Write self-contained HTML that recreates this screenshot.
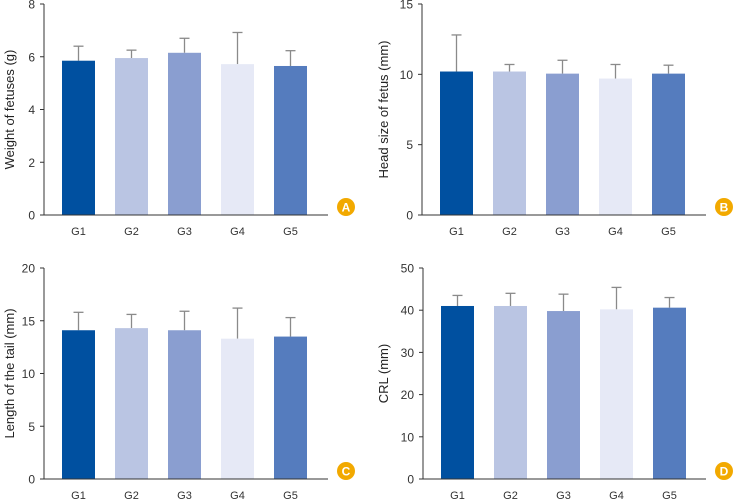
<!DOCTYPE html>
<html><head><meta charset="utf-8"><style>
body{margin:0;background:#fff;}
svg{display:block;font-family:"Liberation Sans",Arial,sans-serif;}
</style></head><body>
<svg id="c" width="734" height="500"></svg>
<script>
const categories=["G1","G2","G3","G4","G5"];
const colors=["#0050a0","#bac5e3","#8a9ed0","#e6e9f6","#557cbe"];
const weightMeans=[5.85,5.95,6.15,5.72,5.65];
const weightSD=[0.55,0.3,0.55,1.2,0.58];
const headMeans=[10.2,10.2,10.05,9.7,10.05];
const headSD=[2.6,0.5,0.95,1.0,0.6];
const tailMeans=[14.1,14.3,14.1,13.3,13.5];
const tailSD=[1.7,1.3,1.8,2.9,1.8];
const crlMeans=[41,41,39.8,40.2,40.6];
const crlSD=[2.5,3,4,5.2,2.4];
const weightTicks=[0,2,4,6,8];
const headTicks=[0,5,10,15];
const tailTicks=[0,5,10,15,20];
const crlTicks=[0,10,20,30,40,50];
const panels=[
 {id:"a",x0:44,x1:328,top:4,bot:215,max:8,ticks:weightTicks,m:weightMeans,s:weightSD,title:"Weight of fetuses (g)",tx:14,letter:"A"},
 {id:"b",x0:422,x1:706,top:4,bot:215,max:15,ticks:headTicks,m:headMeans,s:headSD,title:"Head size of fetus (mm)",tx:388,letter:"B"},
 {id:"c",x0:44,x1:328,top:268,bot:479,max:20,ticks:tailTicks,m:tailMeans,s:tailSD,title:"Length of the tail (mm)",tx:14,letter:"C"},
 {id:"d",x0:423,x1:706,top:268,bot:479,max:50,ticks:crlTicks,m:crlMeans,s:crlSD,title:"CRL (mm)",tx:388,letter:"D"}
];
const NS="http://www.w3.org/2000/svg";
const svg=document.getElementById("c");
function mk(tag,attrs,parent,text){const e=document.createElementNS(NS,tag);for(const k in attrs)e.setAttribute(k,attrs[k]);if(text!==undefined)e.textContent=text;parent.appendChild(e);return e;}
panels.forEach(p=>{
 const g=mk("g",{},svg);
 
 
 const y=v=>p.bot-(v/p.max)*(p.bot-p.top);
 const pitch=53,bw=33,first=p.x0+18;
 const xl=i=>first+i*pitch;
 p.m.forEach((v,i)=>{
  const x=xl(i),cx=x+bw/2;
  const eb=mk("g",{},g);
  
  
  mk("line",{x1:cx,x2:cx,y1:y(v),y2:y(v+p.s[i]),stroke:"#8a8a8a","stroke-width":1.3},eb);
  mk("line",{x1:cx-5,x2:cx+5,y1:y(v+p.s[i]),y2:y(v+p.s[i]),stroke:"#8a8a8a","stroke-width":1.3},eb);
  const r=mk("rect",{x:x,y:y(v),width:bw,height:p.bot-y(v),fill:colors[i]},g);
  
  
  const t=mk("text",{x:cx,y:p.bot+20,"text-anchor":"middle","font-size":11,fill:"#333"},g,categories[i]);
  
  
 });
 const ax=mk("path",{d:`M${p.x0} ${p.top}V${p.bot}H${p.x1}`,stroke:"#333",fill:"none","stroke-width":1},g);
 
 
 p.ticks.forEach(t=>{
  mk("line",{x1:p.x0-4,x2:p.x0,y1:y(t),y2:y(t),stroke:"#333"},g);
  const tl=mk("text",{x:p.x0-9,y:y(t)+4.5,"text-anchor":"end","font-size":12,fill:"#333"},g,t);
  
  
 });
 const ty=(p.top+p.bot)/2;
 const tt=mk("text",{x:p.tx,y:ty,transform:`rotate(-90 ${p.tx} ${ty})`,"text-anchor":"middle","font-size":13,fill:"#222"},g,p.title);
 
 
 const bx=p.x1+18,by=p.bot-8;
 const bg=mk("g",{},g);
 
 
 mk("circle",{cx:bx,cy:by,r:9,fill:"#f2a900"},bg);
 mk("text",{x:bx,y:by+4.5,"text-anchor":"middle","font-size":12,"font-weight":"bold",fill:"#fff"},bg,p.letter);
});
</script>
</body></html>
